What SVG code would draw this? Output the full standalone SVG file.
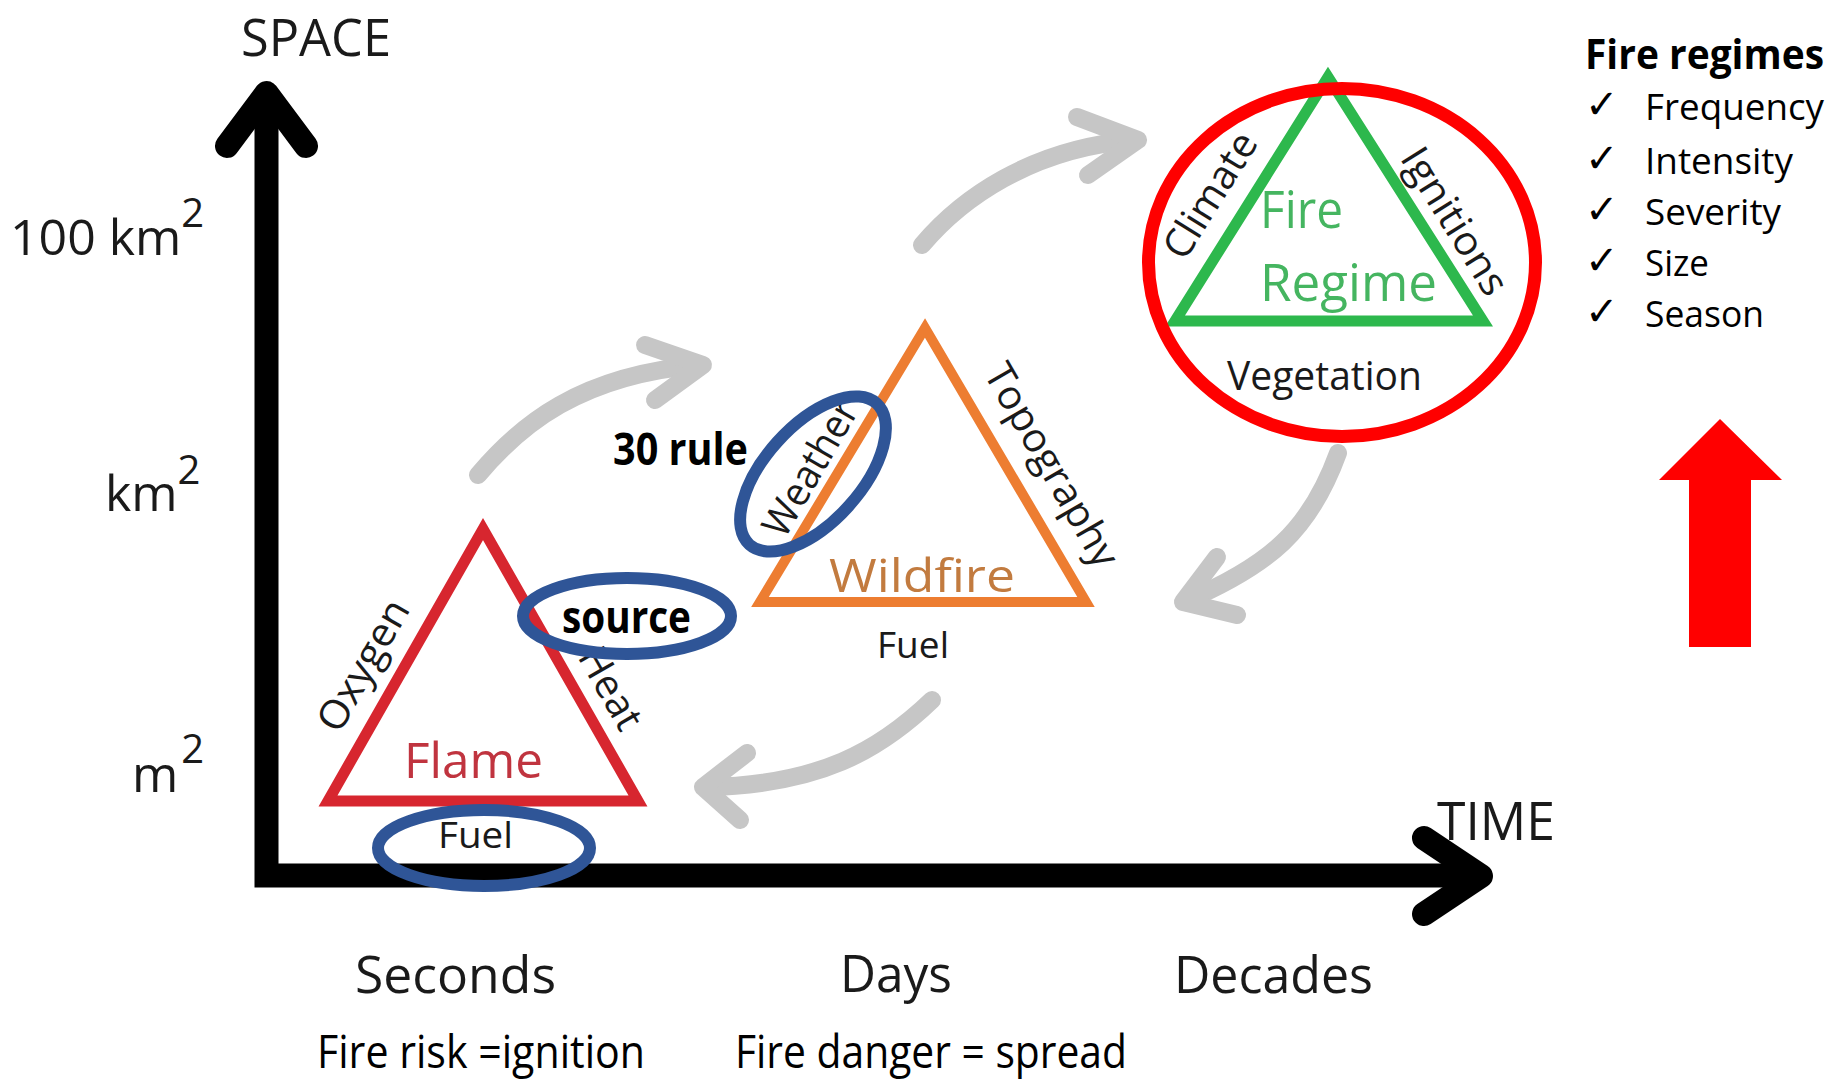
<svg xmlns="http://www.w3.org/2000/svg" width="1841" height="1079" viewBox="0 0 1841 1079">
<style>
.t{font-family:"Open Sans","Noto Sans",sans-serif;fill:#1a1a1a}
.b{font-family:"Open Sans","Noto Sans",sans-serif;font-weight:bold;fill:#000}
.k{fill:#000}
.cflame{fill:#c0343f}
.cwild{fill:#c27b3f}
.cgreen{fill:#45b560}
.sup{font-size:40px}
.gray{fill:none;stroke:#c6c6c6;stroke-width:18;stroke-linecap:round;stroke-linejoin:round}
.axis{fill:none;stroke:#000;stroke-width:24}
.ahead{fill:none;stroke:#000;stroke-width:24;stroke-linecap:round;stroke-linejoin:round}
.blue{fill:none;stroke:#2f5597;stroke-width:12}
.chk{font-family:"DejaVu Sans",sans-serif;fill:#000}
</style>
<rect width="1841" height="1079" fill="#fff"/>

<g id="axes">
  <path class="axis" d="M266.5,100 V875.5 H1478" stroke-linejoin="miter"/>
  <polyline class="ahead" points="227,146 266.5,93 306,146"/>
  <polyline class="ahead" points="1424,838 1481,876 1424,914"/>
  <text class="t" x="241" y="56" font-size="52" textLength="150" lengthAdjust="spacingAndGlyphs">SPACE</text>
  <text class="t" x="1437" y="840" font-size="53" textLength="118" lengthAdjust="spacingAndGlyphs">TIME</text>
  <text class="t" x="10" y="255" font-size="50">100 km<tspan class="sup" dy="-28">2</tspan></text>
  <text class="t" x="105" y="511" font-size="50">km<tspan class="sup" dy="-27">2</tspan></text>
  <text class="t" x="132" y="792" font-size="50">m<tspan class="sup" dx="3" dy="-29">2</tspan></text>
  <text class="t" x="355" y="993" font-size="52" textLength="201" lengthAdjust="spacingAndGlyphs">Seconds</text>
  <text class="t" x="840" y="992" font-size="52" textLength="112" lengthAdjust="spacingAndGlyphs">Days</text>
  <text class="t" x="1174" y="993" font-size="52" textLength="199" lengthAdjust="spacingAndGlyphs">Decades</text>
  <text class="t k" x="317" y="1068" font-size="46" textLength="328" lengthAdjust="spacingAndGlyphs">Fire risk =ignition</text>
  <text class="t k" x="735" y="1068" font-size="46" textLength="392" lengthAdjust="spacingAndGlyphs">Fire danger = spread</text>
</g>

<g id="connectors">
  <path class="gray" d="M478,475 C520,425 580,375 700,365"/>
  <polyline class="gray" points="645,345 703,365 655,400"/>
  <path class="gray" d="M922,245 C960,200 1030,148 1136,140"/>
  <polyline class="gray" points="1077,117 1138,140 1088,175"/>
  <path class="gray" d="M1338,453 C1310,530 1270,565 1186,601"/>
  <polyline class="gray" points="1217,557 1183,602 1237,615"/>
  <path class="gray" d="M932,700 C880,750 820,785 706,787"/>
  <polyline class="gray" points="747,753 703,787 740,820"/>
</g>

<g id="flame">
  <polygon points="483,529 638,801 328,801" fill="none" stroke="#d7262f" stroke-width="11"/>
  <text class="t cflame" x="404" y="778" font-size="49" textLength="139" lengthAdjust="spacingAndGlyphs">Flame</text>
  <text class="t" transform="translate(363,665) rotate(-60.3)" x="0" y="14" font-size="40" text-anchor="middle" textLength="145" lengthAdjust="spacingAndGlyphs">Oxygen</text>
  <text class="t" transform="translate(611,688) rotate(60.3)" x="0" y="14" font-size="40" text-anchor="middle">Heat</text>
  <text class="t" x="438" y="848" font-size="37" textLength="75" lengthAdjust="spacingAndGlyphs">Fuel</text>
</g>

<g id="source-mark">
  <ellipse class="blue" cx="627" cy="616" rx="104" ry="38"/>
  <text class="b" x="562" y="633" font-size="44" textLength="129" lengthAdjust="spacingAndGlyphs">source</text>
</g>

<g id="fuel-mark">
  <ellipse class="blue" cx="484" cy="848" rx="106" ry="38"/>
</g>

<g id="wildfire">
  <polygon points="925,328 1086,602 760,602" fill="none" stroke="#ed7d31" stroke-width="10"/>
  <text class="t cwild" x="829" y="592" font-size="46" textLength="186" lengthAdjust="spacingAndGlyphs">Wildfire</text>
  <text class="t" transform="translate(810,468) rotate(-60)" x="0" y="14" font-size="40" text-anchor="middle" textLength="150" lengthAdjust="spacingAndGlyphs">Weather</text>
  <text class="t" transform="translate(1052,465) rotate(60)" x="0" y="14" font-size="40" text-anchor="middle" textLength="228" lengthAdjust="spacingAndGlyphs">Topography</text>
  <text class="t" x="877" y="658" font-size="37" textLength="72" lengthAdjust="spacingAndGlyphs">Fuel</text>
</g>

<g id="weather-mark">
  <ellipse class="blue" cx="813" cy="474" rx="95" ry="48" transform="rotate(-48 813 474)"/>
  <text class="b" x="613" y="465" font-size="44" textLength="135" lengthAdjust="spacingAndGlyphs">30 rule</text>
</g>

<g id="fire-regime">
  <polygon points="1328,77 1483,321 1175,321" fill="none" stroke="#2db84d" stroke-width="11"/>
  <text class="t cgreen" x="1260" y="228" font-size="51" textLength="83" lengthAdjust="spacingAndGlyphs">Fire</text>
  <text class="t cgreen" x="1260" y="301" font-size="51" textLength="177" lengthAdjust="spacingAndGlyphs">Regime</text>
  <text class="t" transform="translate(1210,195) rotate(-58)" x="0" y="14" font-size="40" text-anchor="middle" textLength="141" lengthAdjust="spacingAndGlyphs">Climate</text>
  <text class="t" transform="translate(1455,221) rotate(58)" x="0" y="14" font-size="40" text-anchor="middle" textLength="166" lengthAdjust="spacingAndGlyphs">Ignitions</text>
  <text class="t" x="1227" y="390" font-size="40" textLength="195" lengthAdjust="spacingAndGlyphs">Vegetation</text>
  <ellipse cx="1342" cy="262.5" rx="193.5" ry="174" fill="none" stroke="#ff0000" stroke-width="13"/>
</g>

<g id="legend">
  <text class="b" x="1585" y="69" font-size="42" textLength="239" lengthAdjust="spacingAndGlyphs">Fire regimes</text>
  <text class="chk" x="1585" y="118" font-size="40">✓</text>
  <text class="chk" x="1585" y="172" font-size="40">✓</text>
  <text class="chk" x="1585" y="223" font-size="40">✓</text>
  <text class="chk" x="1585" y="274" font-size="40">✓</text>
  <text class="chk" x="1585" y="325" font-size="40">✓</text>
  <text class="t k" x="1645" y="120" font-size="36" textLength="179" lengthAdjust="spacingAndGlyphs">Frequency</text>
  <text class="t k" x="1645" y="174" font-size="36" textLength="148" lengthAdjust="spacingAndGlyphs">Intensity</text>
  <text class="t k" x="1645" y="225" font-size="36" textLength="136" lengthAdjust="spacingAndGlyphs">Severity</text>
  <text class="t k" x="1645" y="276" font-size="36" textLength="64" lengthAdjust="spacingAndGlyphs">Size</text>
  <text class="t k" x="1645" y="327" font-size="36" textLength="119" lengthAdjust="spacingAndGlyphs">Season</text>
</g>

<g id="up-arrow">
  <polygon points="1720,419 1782,480 1751,480 1751,647 1689,647 1689,480 1659,480" fill="#ff0000"/>
</g>
</svg>
